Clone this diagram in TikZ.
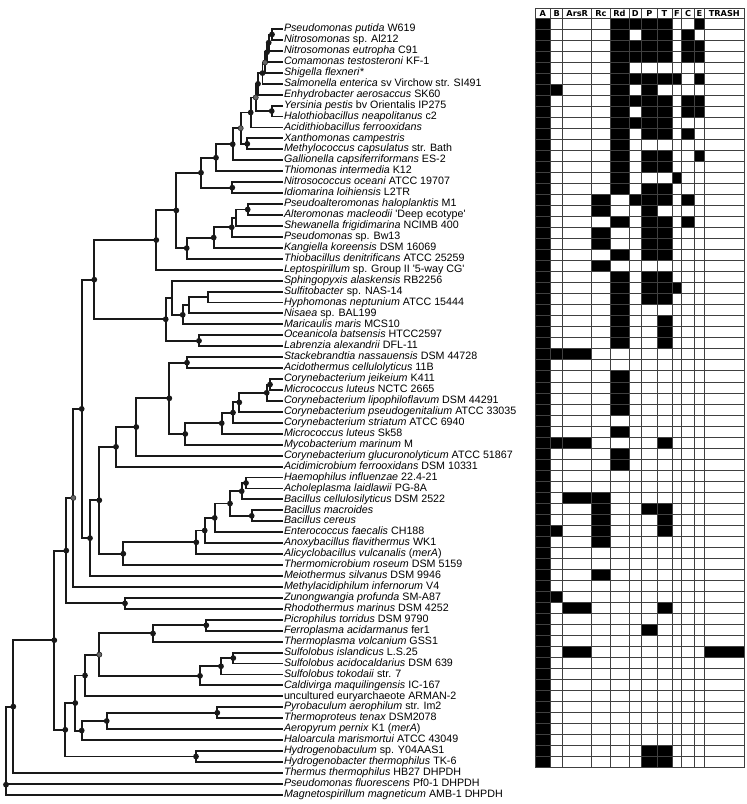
\documentclass[tikz,border=0pt]{standalone}
\usepackage{fontspec}
\setmainfont{Liberation Sans}
\newfontfamily\hdrfont{DejaVu Sans}
\begin{document}
\begin{tikzpicture}[x=1pt,y=-1pt,
  branch/.style={line width=1.9pt,line cap=rect,black!90},
  lab/.style={anchor=west,inner sep=0pt,xshift=1.8pt,font=\fontsize{10.7}{12}\selectfont,text height=7.6pt,text depth=2.3pt},
  hdr/.style={inner sep=0pt,font=\hdrfont\bfseries\fontsize{8.2}{9}\selectfont},
  gridline/.style={line width=0.9pt,black!75},
  bdot/.style={fill=black!90},
  gdot/.style={fill=black!60,draw=black!85,line width=0.6pt}]
\useasboundingbox (0,0) rectangle (747,804);
% leaf tips
\foreach \i in {1,...,71} {\coordinate (t\i) at (282,{29+(\i-1)*10.94});}
% internal nodes
\coordinate (a1) at (272,34.45);
\coordinate (a2) at (268.7,42.68);
\coordinate (a3) at (267,52.24);
\coordinate (a4) at (265,62.52);
\coordinate (a5) at (262.5,73.11);
\coordinate (a6) at (258,83.86);
\coordinate (a8) at (271.7,111.05);
\coordinate (a7) at (255.7,97.46);
\coordinate (a9) at (250.7,112.48);
\coordinate (a11) at (247.3,143.85);
\coordinate (a10) at (240.7,128.17);
\coordinate (a12) at (232.7,144.24);
\coordinate (a13) at (216,157.72);
\coordinate (a15) at (232.3,187.65);
\coordinate (a14) at (201,172.69);
\coordinate (b1) at (247.7,209.5);
\coordinate (b2) at (236,217.7);
\coordinate (b3) at (231.7,227.3);
\coordinate (b4) at (213.7,237.55);
\coordinate (b5) at (186.7,248.13);
\coordinate (nF) at (176.3,210.41);
\coordinate (nG) at (156.3,240.05);
\coordinate (nJ) at (207.7,297.05);
\coordinate (nK) at (189.3,305.23);
\coordinate (nL) at (182.7,314.81);
\coordinate (nM) at (172.3,297.7);
\coordinate (nN) at (199,340.8);
\coordinate (nI) at (165.7,319.25);
\coordinate (nH) at (94.3,279.65);
\coordinate (c1) at (187,362.65);
\coordinate (nU) at (270,384.55);
\coordinate (nT) at (266.7,392.78);
\coordinate (nS) at (239.3,402.34);
\coordinate (nR) at (233,412.57);
\coordinate (nQ) at (221.7,423.19);
\coordinate (nP) at (185.3,433.94);
\coordinate (nV) at (169.3,398.3);
\coordinate (nW) at (136.3,427.0);
\coordinate (nX) at (116,446.8);
\coordinate (nAG) at (246,483.0);
\coordinate (nAE) at (241.7,491.2);
\coordinate (nAF) at (251.7,515.85);
\coordinate (nAD) at (230,503.53);
\coordinate (nAC) at (214.7,517.87);
\coordinate (nAB) at (204.7,530.53);
\coordinate (nAA) at (196.3,542.32);
\coordinate (nZ) at (123.3,553.71);
\coordinate (nY) at (99.3,500.26);
\coordinate (nBB) at (90,538.13);
\coordinate (nO) at (81.7,408.89);
\coordinate (nBC) at (73.3,497.9);
\coordinate (c2) at (125,603.35);
\coordinate (nBD) at (66.3,550.63);
\coordinate (c3) at (206.3,625.25);
\coordinate (nBL) at (153,633.43);
\coordinate (c4) at (233.3,658.05);
\coordinate (nBN) at (221,666.28);
\coordinate (nBM) at (200,675.84);
\coordinate (nBK) at (99.3,654.63);
\coordinate (nBJ) at (85,675.47);
\coordinate (c5) at (217.3,712.75);
\coordinate (nBI) at (106.7,720.98);
\coordinate (nBH) at (81.7,730.54);
\coordinate (nBG) at (75.3,703.0);
\coordinate (c6) at (196,756.5);
\coordinate (nBF) at (65.3,729.75);
\coordinate (nBE) at (54.3,640.19);
\coordinate (nBO) at (13.3,706.55);
\coordinate (root) at (6,784.7);
% branches
\foreach \p/\c in {a1/t1,a1/t2,a2/a1,a2/t3,a3/a2,a3/t4,a4/a3,a4/t5,a5/a4,a5/t6,a6/a5,a6/t7,
  a8/t8,a8/t9,a7/a6,a7/a8,a9/a7,a9/t10,a11/t11,a11/t12,a10/a9,a10/a11,a12/a10,a12/t13,
  a13/a12,a13/t14,a15/t15,a15/t16,a14/a13,a14/a15,b1/t17,b1/t18,b2/b1,b2/t19,b3/b2,b3/t20,
  b4/b3,b4/t21,b5/b4,b5/t22,nF/a14,nF/b5,nG/nF,nG/t23,nJ/t25,nJ/t26,nK/nJ,nK/t27,nL/nK,nL/t28,
  nM/t24,nM/nL,nN/t29,nN/t30,nI/nM,nI/nN,nH/nG,nH/nI,c1/t31,c1/t32,nU/t33,nU/t34,nT/nU,nT/t35,
  nS/nT,nS/t36,nR/nS,nR/t37,nQ/nR,nQ/t38,nP/nQ,nP/t39,nV/c1,nV/nP,nW/nV,nW/t40,nX/nW,nX/t41,
  nAG/t42,nAG/t43,nAE/nAG,nAE/t44,nAF/t45,nAF/t46,nAD/nAE,nAD/nAF,nAC/nAD,nAC/t47,nAB/nAC,nAB/t48,
  nAA/nAB,nAA/t49,nZ/nAA,nZ/t50,nY/nX,nY/nZ,nBB/nY,nBB/t51,nO/nH,nO/nBB,nBC/nO,nBC/t52,
  c2/t53,c2/t54,nBD/nBC,nBD/c2,c3/t55,c3/t56,nBL/c3,nBL/t57,c4/t58,c4/t59,nBN/c4,nBN/t60,
  nBM/nBN,nBM/t61,nBK/nBL,nBK/nBM,nBJ/nBK,nBJ/t62,c5/t63,c5/t64,nBI/c5,nBI/t65,nBH/nBI,nBH/t66,
  nBG/nBJ,nBG/nBH,c6/t67,c6/t68,nBF/nBG,nBF/c6,nBE/nBD,nBE/nBF,nBO/nBE,nBO/t69,
  root/nBO,root/t70,root/t71}
  {\draw[branch] (\p) |- (\c);}
% support dots
\foreach \n in {a1,a2,a3,a5,a6,a8,a9,a11,a12,a13,a15,a14,b1,b3,b4,b5,nF,nG,nL,nN,nI,nH,
  c1,nU,nT,nS,nR,nQ,nP,nV,nW,nX,nAG,nAE,nAF,nAD,nAC,nAB,nAA,nZ,nY,nBB,nO,c2,nBD,
  c3,nBL,c4,nBN,nBM,nBJ,c5,nBI,nBH,nBG,c6,nBF,nBE,nBO,root}
  {\fill[bdot] (\n) circle (2.9);}
\foreach \n in {a4,a7,a10,nBC,nBK}
  {\filldraw[gdot] (\n) circle (2.6);}
% labels
\node[lab] (l1) at (t1) {\textit{Pseudomonas putida} W619};
\node[lab] (l2) at (t2) {\textit{Nitrosomonas} sp. Al212};
\node[lab] (l3) at (t3) {\textit{Nitrosomonas eutropha} C91};
\node[lab] (l4) at (t4) {\textit{Comamonas testosteroni} KF-1};
\node[lab] (l5) at (t5) {\textit{Shigella flexneri*}};
\node[lab] (l6) at (t6) {\textit{Salmonella enterica} sv Virchow str. SI491};
\node[lab] (l7) at (t7) {\textit{Enhydrobacter aerosaccus} SK60};
\node[lab] (l8) at (t8) {\textit{Yersinia pestis} bv Orientalis IP275};
\node[lab] (l9) at (t9) {\textit{Halothiobacillus neapolitanus} c2};
\node[lab] (l10) at (t10) {\textit{Acidithiobacillus ferrooxidans}};
\node[lab] (l11) at (t11) {\textit{Xanthomonas campestris}};
\node[lab] (l12) at (t12) {\textit{Methylococcus capsulatus} str. Bath};
\node[lab] (l13) at (t13) {\textit{Gallionella capsiferriformans} ES-2};
\node[lab] (l14) at (t14) {\textit{Thiomonas intermedia} K12};
\node[lab] (l15) at (t15) {\textit{Nitrosococcus oceani} ATCC 19707};
\node[lab] (l16) at (t16) {\textit{Idiomarina loihiensis} L2TR};
\node[lab] (l17) at (t17) {\textit{Pseudoalteromonas haloplanktis} M1};
\node[lab] (l18) at (t18) {\textit{Alteromonas macleodii} \textquotesingle Deep ecotype\textquotesingle};
\node[lab] (l19) at (t19) {\textit{Shewanella frigidimarina} NCIMB 400};
\node[lab] (l20) at (t20) {\textit{Pseudomonas} sp. Bw13};
\node[lab] (l21) at (t21) {\textit{Kangiella koreensis} DSM 16069};
\node[lab] (l22) at (t22) {\textit{Thiobacillus denitrificans} ATCC 25259};
\node[lab] (l23) at (t23) {\textit{Leptospirillum} sp. Group II \textquotesingle 5-way CG\textquotesingle};
\node[lab] (l24) at (t24) {\textit{Sphingopyxis alaskensis} RB2256};
\node[lab] (l25) at (t25) {\textit{Sulfitobacter} sp. NAS-14};
\node[lab] (l26) at (t26) {\textit{Hyphomonas neptunium} ATCC 15444};
\node[lab] (l27) at (t27) {\textit{Nisaea} sp. BAL199};
\node[lab] (l28) at (t28) {\textit{Maricaulis maris} MCS10};
\node[lab] (l29) at (t29) {\textit{Oceanicola batsensis} HTCC2597};
\node[lab] (l30) at (t30) {\textit{Labrenzia alexandrii} DFL-11};
\node[lab] (l31) at (t31) {\textit{Stackebrandtia nassauensis} DSM 44728};
\node[lab] (l32) at (t32) {\textit{Acidothermus cellulolyticus} 11B};
\node[lab] (l33) at (t33) {\textit{Corynebacterium jeikeium} K411};
\node[lab] (l34) at (t34) {\textit{Micrococcus luteus} NCTC 2665};
\node[lab] (l35) at (t35) {\textit{Corynebacterium lipophiloflavum} DSM 44291};
\node[lab] (l36) at (t36) {\textit{Corynebacterium pseudogenitalium} ATCC 33035};
\node[lab] (l37) at (t37) {\textit{Corynebacterium striatum} ATCC 6940};
\node[lab] (l38) at (t38) {\textit{Micrococcus luteus} Sk58};
\node[lab] (l39) at (t39) {\textit{Mycobacterium marinum} M};
\node[lab] (l40) at (t40) {\textit{Corynebacterium glucuronolyticum} ATCC 51867};
\node[lab] (l41) at (t41) {\textit{Acidimicrobium ferrooxidans} DSM 10331};
\node[lab] (l42) at (t42) {\textit{Haemophilus influenzae} 22.4-21};
\node[lab] (l43) at (t43) {\textit{Acholeplasma laidlawii} PG-8A};
\node[lab] (l44) at (t44) {\textit{Bacillus cellulosilyticus} DSM 2522};
\node[lab] (l45) at (t45) {\textit{Bacillus macroides}};
\node[lab] (l46) at (t46) {\textit{Bacillus cereus}};
\node[lab] (l47) at (t47) {\textit{Enterococcus faecalis} CH188};
\node[lab] (l48) at (t48) {\textit{Anoxybacillus flavithermus} WK1};
\node[lab] (l49) at (t49) {\textit{Alicyclobacillus vulcanalis} (\textit{merA})};
\node[lab] (l50) at (t50) {\textit{Thermomicrobium roseum} DSM 5159};
\node[lab] (l51) at (t51) {\textit{Meiothermus silvanus} DSM 9946};
\node[lab] (l52) at (t52) {\textit{Methylacidiphilum infernorum} V4};
\node[lab] (l53) at (t53) {\textit{Zunongwangia profunda} SM-A87};
\node[lab] (l54) at (t54) {\textit{Rhodothermus marinus} DSM 4252};
\node[lab] (l55) at (t55) {\textit{Picrophilus torridus} DSM 9790};
\node[lab] (l56) at (t56) {\textit{Ferroplasma acidarmanus} fer1};
\node[lab] (l57) at (t57) {\textit{Thermoplasma volcanium} GSS1};
\node[lab] (l58) at (t58) {\textit{Sulfolobus islandicus} L.S.25};
\node[lab] (l59) at (t59) {\textit{Sulfolobus acidocaldarius} DSM 639};
\node[lab] (l60) at (t60) {\textit{Sulfolobus tokodaii} str. 7};
\node[lab] (l61) at (t61) {\textit{Caldivirga maquilingensis} IC-167};
\node[lab] (l62) at (t62) {uncultured euryarchaeote ARMAN-2};
\node[lab] (l63) at (t63) {\textit{Pyrobaculum aerophilum} str. Im2};
\node[lab] (l64) at (t64) {\textit{Thermoproteus tenax} DSM2078};
\node[lab] (l65) at (t65) {\textit{Aeropyrum pernix} K1 (\textit{merA})};
\node[lab] (l66) at (t66) {\textit{Haloarcula marismortui} ATCC 43049};
\node[lab] (l67) at (t67) {\textit{Hydrogenobaculum} sp. Y04AAS1};
\node[lab] (l68) at (t68) {\textit{Hydrogenobacter thermophilus} TK-6};
\node[lab] (l69) at (t69) {\textit{Thermus thermophilus} HB27 DHPDH};
\node[lab] (l70) at (t70) {\textit{Pseudomonas fluorescens} Pf0-1 DHPDH};
\node[lab] (l71) at (t71) {\textit{Magnetospirillum magneticum} AMB-1 DHPDH};
% matrix
\def\colx{{535,550.7,562.7,591.7,610,629,641.7,657,672,681.7,694.7,704.3,744.3}}
\fill (535,18.3) rectangle (550.7,767.66);
\foreach \r/\cols in {1/{5,6,7,8,11},2/{5,7,8,10},3/{5,6,7,8,10,11},4/{5,6,7,8,10,11},5/{5},
  6/{5,6,7,8,9,11},7/{2,5,7},8/{5,6,7,8,10,11},9/{5,7,8,10,11},10/{5,6,7,8},11/{5,7,8,10},
  12/{5},13/{5,7,8,11},14/{5,7,8},15/{5,9},16/{5,7,8},17/{4,6,7,8,10},18/{4,7},19/{5,7,8,10},
  20/{4,7,8},21/{4,7,8},22/{5,7,8},23/{4},24/{5,7,8},25/{5,7,8,9},26/{5,7,8},27/{5},28/{5,8},
  29/{5,8},30/{5,8},31/{2,3},33/{5},34/{5},35/{5},36/{5},38/{5},39/{2,3,8},40/{5},41/{5},
  44/{3,4},45/{4,7,8},46/{4,8},47/{2,4,8},48/{4},51/{4},53/{2},54/{3,8},56/{7},58/{3,12},
  67/{7,8},68/{7,8}}
{\foreach \c in \cols {
   \pgfmathsetmacro\xa{\colx[\c-1]}
   \pgfmathsetmacro\xb{\colx[\c]}
   \fill (\xa,{18.3+(\r-1)*11.02}) rectangle (\xb,{18.3+\r*11.02});}}
\foreach \x in {535,550.7,562.7,591.7,610,629,641.7,657,672,681.7,694.7,704.3,744.3}
  {\draw[gridline] (\x,8.3) -- (\x,767.66);}
\draw[gridline] (535,8.3) -- (744.3,8.3);
\foreach \r in {0,...,68}
  {\draw[gridline] (535,{18.3+\r*11.02}) -- (744.3,{18.3+\r*11.02});}
% header
\node[hdr] (hA) at (542.85,13.3) {A};
\node[hdr] (hB) at (556.7,13.3) {B};
\node[hdr] (hArsR) at (577.2,13.3) {ArsR};
\node[hdr] (hRc) at (600.85,13.3) {Rc};
\node[hdr] (hRd) at (619.5,13.3) {Rd};
\node[hdr] (hD) at (635.35,13.3) {D};
\node[hdr] (hP) at (649.35,13.3) {P};
\node[hdr] (hT) at (664.5,13.3) {T};
\node[hdr] (hF) at (676.85,13.3) {F};
\node[hdr] (hC) at (688.2,13.3) {C};
\node[hdr] (hE) at (699.5,13.3) {E};
\node[hdr] (hTRASH) at (724.3,13.3) {TRASH};
\end{tikzpicture}
\end{document}
